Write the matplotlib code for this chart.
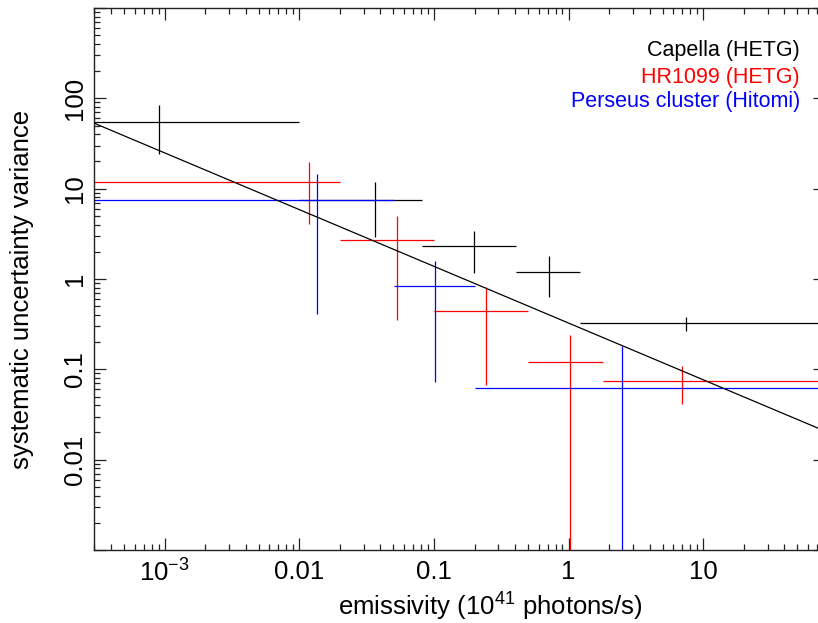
import numpy as np
import matplotlib
matplotlib.use("Agg")
import matplotlib.pyplot as plt
from matplotlib.ticker import LogLocator, NullFormatter, FixedLocator, FixedFormatter

plt.rcParams['font.family'] = ['Liberation Sans', 'DejaVu Sans']
plt.rcParams['mathtext.fontset'] = 'custom'
plt.rcParams['mathtext.rm'] = 'Liberation Sans'
plt.rcParams['mathtext.it'] = 'Liberation Sans:italic'

# ---- data (emissivity in 1e41 photons/s, systematic variance) ----
# Capella (HETG)
cap_x = [9.1e-4, 0.0365, 0.199, 0.713, 7.48]
cap_xlo = [1e-4, 0.0100, 0.0815, 0.403, 1.21]
cap_xhi = [0.0100, 0.0815, 0.403, 1.21, 100.0]
cap_y = [54.7, 7.43, 2.29, 1.21, 0.322]
cap_ylo = [23.9, 2.93, 1.166, 0.63, 0.267]
cap_yhi = [85.1, 11.9, 3.39, 1.79, 0.378]

# HR1099 (HETG)
hr_x = [0.01186, 0.0531, 0.2414, 1.03, 6.92]
hr_xlo = [1e-4, 0.0201, 0.1004, 0.503, 1.81]
hr_xhi = [0.0201, 0.1004, 0.503, 1.81, 100.0]
hr_y = [11.8, 2.67, 0.446, 0.1197, 0.0736]
hr_ylo = [4.05, 0.354, 0.0676, 0.0, 0.0409]
hr_yhi = [19.7, 5.01, 0.815, 0.241, 0.108]

# Perseus cluster (Hitomi)
per_x = [0.01343, 0.102, 2.51]
per_xlo = [1e-4, 0.0501, 0.2023]
per_xhi = [0.0501, 0.2023, 100.0]
per_y = [7.43, 0.83, 0.0621]
per_ylo = [0.413, 0.0717, 0.0]
per_yhi = [14.4, 1.585, 0.1834]

# power-law fit: y = norm * x**index
fit_norm = 0.325
fit_index = -0.628

series = [
    ("Capella (HETG)", "black", cap_x, cap_xlo, cap_xhi, cap_y, cap_ylo, cap_yhi),
    ("HR1099 (HETG)", "#ff0000", hr_x, hr_xlo, hr_xhi, hr_y, hr_ylo, hr_yhi),
    ("Perseus cluster (Hitomi)", "#0000ff", per_x, per_xlo, per_xhi, per_y, per_ylo, per_yhi),
]

W, H = 818, 623
fig = plt.figure(figsize=(W / 100, H / 100), dpi=100)
left_px, right_px, top_px, bot_px = 94.3, 824.9, 8.0, 550.0
ax = fig.add_axes([left_px / W, (H - bot_px) / H, (right_px - left_px) / W, (bot_px - top_px) / H])
ax.set_xscale('log')
ax.set_yscale('log')
ax.set_xlim(3e-4, 80)
ax.set_ylim(1e-3, 1e3)

for name, col, x, xlo, xhi, y, ylo, yhi in series:
    x = np.array(x); y = np.array(y)
    xerr = [x - np.array(xlo), np.array(xhi) - x]
    ylo_c = np.maximum(np.array(ylo), 1e-9)
    yerr = [y - ylo_c, np.array(yhi) - y]
    ax.errorbar(x, y, xerr=xerr, yerr=yerr, fmt='none', ecolor=col,
                elinewidth=0.9, capsize=0)

xf = np.logspace(np.log10(3e-4), np.log10(80), 200)
ax.plot(xf, fit_norm * xf ** fit_index, color='black', lw=0.9)

# ticks
FS = 18.5
ax.xaxis.set_major_locator(FixedLocator([1e-3, 1e-2, 1e-1, 1, 10]))
ax.xaxis.set_major_formatter(FixedFormatter([r'10$^{\mathregular{-3}}$', '0.01', '0.1', '1', '10']))
ax.xaxis.set_minor_locator(LogLocator(base=10, subs=np.arange(2, 10), numticks=20))
ax.xaxis.set_minor_formatter(NullFormatter())
ax.yaxis.set_major_locator(FixedLocator([1e-3, 1e-2, 1e-1, 1, 10, 100, 1e3]))
ax.yaxis.set_major_formatter(FixedFormatter(['', '0.01', '0.1', '1', '10', '100', '']))
ax.yaxis.set_minor_locator(LogLocator(base=10, subs=np.arange(2, 10), numticks=20))
ax.yaxis.set_minor_formatter(NullFormatter())

ax.tick_params(which='both', direction='in', top=True, right=True, width=0.9, color='#222222')
ax.tick_params(which='major', length=8.5, labelsize=FS, pad=7)
ax.tick_params(which='minor', length=4.3)
ax.tick_params(axis='y', which='major', pad=5)
for lab in ax.get_yticklabels():
    lab.set_rotation(90)
    lab.set_va('center')
for s in ax.spines.values():
    s.set_linewidth(1.0)
    s.set_color('#222222')

ax.set_xlabel(r'emissivity (10$^{\mathregular{41}}$ photons/s)', fontsize=FS)
ax.xaxis.set_label_coords((490 - left_px) / (right_px - left_px), -0.076)
ax.set_ylabel('systematic uncertainty variance', fontsize=FS)
ax.yaxis.set_label_coords(-0.083, 0.48)

leg_x = (800 - left_px) / (right_px - left_px)
for (name, col, *_), base_px in zip(series, [56, 82.7, 107.5]):
    ax.text(leg_x, (bot_px - base_px) / (bot_px - top_px), name, color=col,
            fontsize=15.5, ha='right', va='baseline', transform=ax.transAxes)

fig.savefig('out.png', dpi=100)
